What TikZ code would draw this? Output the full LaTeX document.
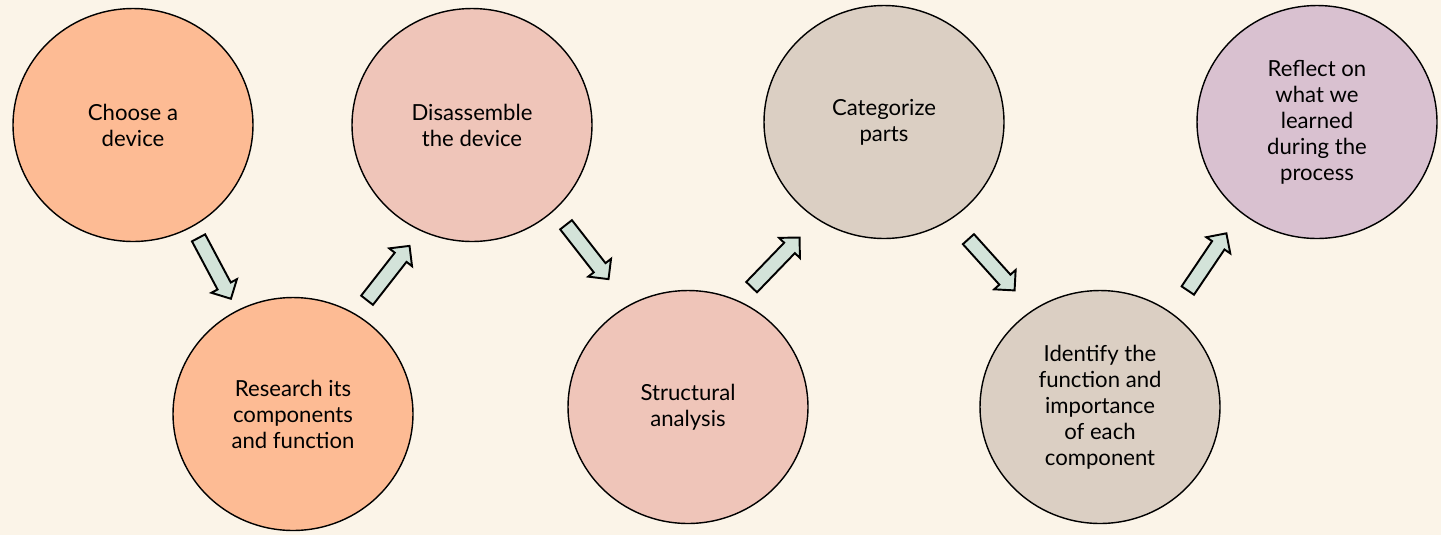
\documentclass[tikz,border=0pt]{standalone}
\usepackage{fontspec}
\setmainfont{Lato}
\usetikzlibrary{shapes.geometric,shapes.arrows}

\definecolor{bgcream}{HTML}{FBF4E8}
\definecolor{peach}{HTML}{FDBB94}
\definecolor{rose}{HTML}{EFC5B9}
\definecolor{sand}{HTML}{DBCFC3}
\definecolor{mauve}{HTML}{D9C1D0}
\definecolor{mint}{HTML}{D3E3D9}

\tikzset{
  stepcircle/.style={ellipse, draw=black, line width=0.8pt, minimum width=4.8cm,
    minimum height=4.66cm, align=center, inner sep=0pt,
    font=\fontsize{12.6}{14.8}\selectfont},
  blockarrow/.style={single arrow, draw=black, fill=mint, line width=1.1pt,
    minimum height=1.38cm, inner xsep=0pt, inner ysep=0.13cm,
    single arrow head extend=0.14cm, single arrow head indent=0pt}
}

\begin{document}
\begin{tikzpicture}[x=0.02cm,y=-0.02cm]

  % Background
  \fill [bgcream] (0,0) rectangle (1441,535);

  % Steps
  \node [stepcircle, fill=peach] (S1) at (133,125) {Choose a\\device};
  \node [stepcircle, fill=peach] (S2) at (293,414) {Research its\\components\\and function};
  \node [stepcircle, fill=rose] (S3) at (472,125) {Disassemble\\the device};
  \node [stepcircle, fill=rose] (S4) at (688,407) {Structural\\analysis};
  \node [stepcircle, fill=sand] (S5) at (884,122) {Categorize\\parts};
  \node [stepcircle, fill=sand] (S6) at (1100,407) {Identify the\\function and\\importance\\of each\\component};
  \node [stepcircle, fill=mauve] (S7) at (1317,122) {Reflect on\\what we\\learned\\during the\\process};

  % Arrows
  \node [blockarrow, rotate=-62] (A1) at (213,265) {};
  \node [blockarrow, rotate=52] (A2) at (386,276) {};
  \node [blockarrow, rotate=-52] (A3) at (585,249) {};
  \node [blockarrow, rotate=46] (A4) at (773,265) {};
  \node [blockarrow, rotate=-48] (A5) at (989,262) {};
  \node [blockarrow, rotate=56] (A6) at (1205,265) {};

\end{tikzpicture}
\end{document}
